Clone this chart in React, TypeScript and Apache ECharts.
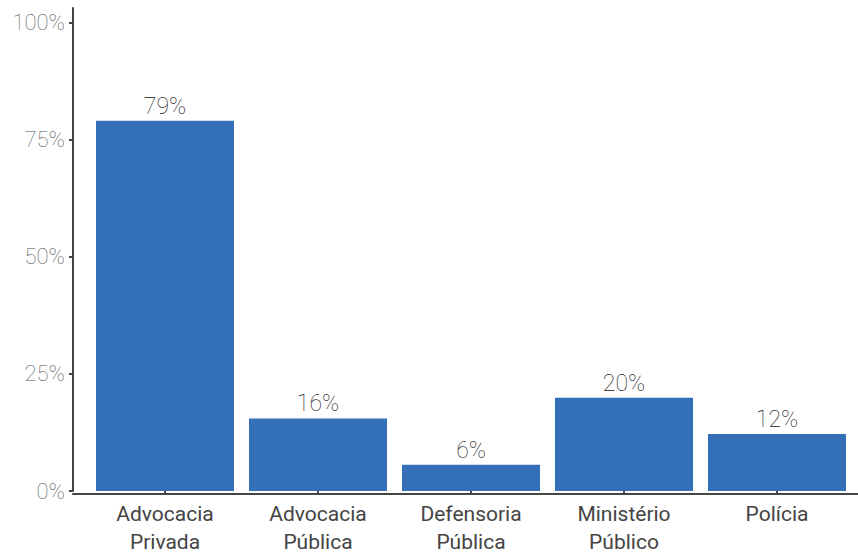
import React, { useEffect, useRef } from "react";
import * as echarts from "echarts";

const categories = ["Advocacia\nPrivada", "Advocacia\nPública", "Defensoria\nPública", "Ministério\nPúblico", "Polícia"];
const values = [79.1, 15.5, 5.6, 19.9, 12.2];
const yTicks = [0, 25, 50, 75, 100];
const yMax = 103.2;

export default function App() {
  const ref = useRef<HTMLDivElement>(null);
  useEffect(() => {
    if (!ref.current) return;
    const chart = echarts.init(ref.current, undefined, { renderer: "svg" });
    chart.setOption({
      animation: false,
      grid: [
        { left: 88.5, right: 4.5, top: 8, bottom: 62.5 },
        { left: 73, right: 0, top: 8, bottom: 62.5 },
      ],
      xAxis: [
        {
          type: "category",
          gridIndex: 0,
          data: categories,
          axisLine: { show: false },
          axisTick: { show: true, alignWithLabel: true, length: 4, lineStyle: { color: "#444", width: 2 } },
          axisLabel: {
            color: "#444",
            fontFamily: "Roboto",
            fontSize: 21,
            lineHeight: 28,
            margin: 9,
            interval: 0,
          },
        },
        {
          type: "value",
          gridIndex: 1,
          min: 0,
          max: 1,
          axisLine: { show: true, lineStyle: { color: "#444", width: 2 } },
          axisTick: { show: false },
          axisLabel: { show: false },
          splitLine: { show: false },
        },
      ],
      yAxis: [
        {
          type: "value",
          gridIndex: 0,
          min: 0,
          max: yMax,
          offset: 15.5,
          axisLine: { show: true, lineStyle: { color: "#444", width: 2 } },
          axisTick: { show: true, length: 4, customValues: yTicks, lineStyle: { color: "#444", width: 2 } },
          axisLabel: {
            customValues: yTicks,
            formatter: (v: number) => `${v}%`,
            color: "#555",
            fontFamily: "Roboto",
            fontWeight: 100,
            fontSize: 22,
            margin: 8,
          },
          splitLine: { show: false },
        },
        {
          type: "value",
          gridIndex: 1,
          show: false,
        },
      ],
      series: [
        {
          type: "bar",
          xAxisIndex: 0,
          yAxisIndex: 0,
          data: values,
          barWidth: 138,
          itemStyle: { color: "#3370B8" },
          label: {
            show: true,
            position: "top",
            distance: 3,
            formatter: (p: any) => `${Math.round(p.value)}%`,
            color: "#111",
            fontFamily: "Roboto",
            fontWeight: 100,
            fontSize: 23,
          },
        },
      ],
    });
    return () => chart.dispose();
  }, []);
  return <div ref={ref} style={{ width: 858, height: 556, position: "absolute", left: 0, top: 0 }} />;
}
